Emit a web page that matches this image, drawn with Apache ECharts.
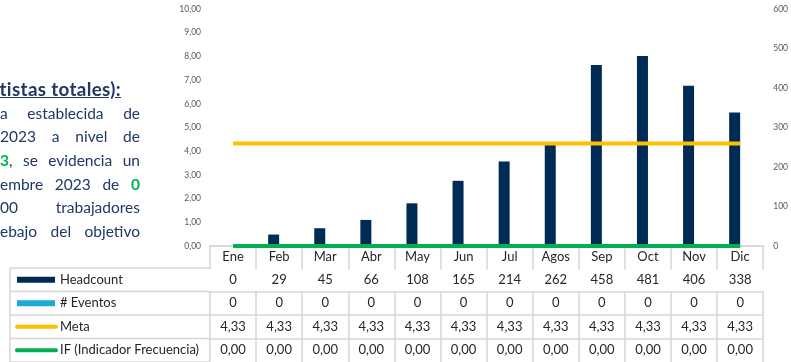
<!DOCTYPE html>
<html>
<head>
<meta charset="utf-8">
<script src="https://cdn.jsdelivr.net/npm/echarts@6/dist/echarts.min.js"></script>
<style>
html,body{margin:0;padding:0;background:#fff;}
#wrap{position:relative;width:791px;height:362px;overflow:hidden;}
#chart{position:absolute;left:0;top:0;width:791px;height:362px;}
#ttl{position:absolute;left:-179px;top:77px;width:300px;text-align:right;font-family:Lato,"Open Sans",sans-serif;font-weight:bold;font-size:18.8px;letter-spacing:0.35px;line-height:24px;color:#1F3864;text-decoration:underline;white-space:nowrap;}
#txt{position:absolute;left:0;top:101.5px;width:140px;font-family:Lato,"Open Sans",sans-serif;font-size:15.5px;line-height:23.7px;color:#1F3864;}
#txt .l{text-align:justify;text-align-last:justify;height:23.7px;}
#txt .g{color:#00B050;font-weight:bold;}
</style>
</head>
<body>
<div id="wrap">
  <div id="chart"></div>
  <div id="ttl">contratistas totales):</div>
  <div id="txt">
    <div class="l">a establecida de</div>
    <div class="l">2023 a nivel de</div>
    <div class="l"><span class="g">3</span>, se evidencia un</div>
    <div class="l">embre 2023 de <span class="g">0</span></div>
    <div class="l">00 trabajadores</div>
    <div class="l">ebajo del objetivo</div>
  </div>
</div>
<script>
// ---- data ----
const months = ['Ene','Feb','Mar','Abr','May','Jun','Jul','Agos','Sep','Oct','Nov','Dic'];
const headcount = [0, 29, 45, 66, 108, 165, 214, 262, 458, 481, 406, 338];
const eventos = [0, 0, 0, 0, 0, 0, 0, 0, 0, 0, 0, 0];
const meta = [4.33, 4.33, 4.33, 4.33, 4.33, 4.33, 4.33, 4.33, 4.33, 4.33, 4.33, 4.33];
const ifInd = [0, 0, 0, 0, 0, 0, 0, 0, 0, 0, 0, 0];
const seriesNames = ['Headcount', '# Eventos', 'Meta', 'IF (Indicador Frecuencia)'];
const leftAxis = {min: 0, max: 10, interval: 1};
const rightAxis = {min: 0, max: 600, interval: 100};

// ---- styles / layout ----
const FONT = 'Lato, "Open Sans", sans-serif';
const colors = ['#002B55', '#1BA9D6', '#FFC000', '#00B050'];
const border = '#D6D6D6';
const gridLeft = 210, gridRight = 23, gridTop = 9, gridBottom = 116;
const axisY = 362 - gridBottom;           // 246
const rowTops = [268, 291.5, 315, 338.5]; // table row top borders
const rowBottom = 362;
const tableLeft = 10;

const comma2 = v => Number(v).toFixed(2).replace('.', ',');
const rows = [
  headcount.map(v => String(v)),
  eventos.map(v => String(v)),
  meta.map(comma2),
  ifInd.map(comma2)
];

const xAxes = [{
  type: 'category', data: months, position: 'bottom', gridIndex: 0,
  axisLine: {show: true, lineStyle: {color: border, width: 1.5}},
  axisTick: {show: true, interval: 0, length: rowTops[0] - axisY, lineStyle: {color: border, width: 1.5}},
  axisLabel: {interval: 0, margin: 4, fontSize: 13, color: '#262626', fontFamily: FONT}
}];
rows.forEach((r, i) => {
  const top = rowTops[i];
  const bot = i < rowTops.length - 1 ? rowTops[i + 1] : rowBottom;
  xAxes.push({
    type: 'category', data: months, position: 'bottom', gridIndex: 0,
    offset: top - axisY,
    axisLine: {show: true, lineStyle: {color: border, width: 1.5}},
    axisTick: {show: true, interval: 0, length: bot - top, lineStyle: {color: border, width: 1.5}},
    axisLabel: {interval: 0, margin: (bot - top) / 2 - 6.5, fontSize: 13, color: '#262626', fontFamily: FONT,
      formatter: (v, idx) => r[idx]}
  });
});

// label column of table
const graphic = [];
[...rowTops, rowBottom].forEach(y => {
  graphic.push({type: 'line', shape: {x1: tableLeft, y1: y, x2: gridLeft, y2: y},
    style: {stroke: border, lineWidth: 1.5}, silent: true});
});
graphic.push({type: 'line', shape: {x1: tableLeft, y1: rowTops[0], x2: tableLeft, y2: rowBottom},
  style: {stroke: border, lineWidth: 1.5}, silent: true});
seriesNames.forEach((name, i) => {
  const top = rowTops[i];
  const bot = i < rowTops.length - 1 ? rowTops[i + 1] : rowBottom;
  const cy = (top + bot) / 2;
  if (i < 2) {
    graphic.push({type: 'rect', shape: {x: 17, y: cy - 3, width: 38, height: 6},
      style: {fill: colors[i]}, silent: true});
  } else {
    graphic.push({type: 'line', shape: {x1: 17, y1: cy, x2: 56, y2: cy},
      style: {stroke: colors[i], lineWidth: 4, lineCap: 'round'}, silent: true});
  }
  graphic.push({type: 'text', x: 60, y: cy,
    style: {text: name, font: '13px ' + FONT, fill: '#262626', textVerticalAlign: 'middle', verticalAlign: 'middle'},
    silent: true});
});

const chart = echarts.init(document.getElementById('chart'), null, {renderer: 'canvas'});
chart.setOption({
  animation: false,
  backgroundColor: 'transparent',
  grid: {left: gridLeft, right: gridRight, top: gridTop, bottom: gridBottom, containLabel: false},
  xAxis: xAxes,
  yAxis: [
    {type: 'value', position: 'left', min: leftAxis.min, max: leftAxis.max, interval: leftAxis.interval,
      axisLine: {show: false}, axisTick: {show: false}, splitLine: {show: false},
      axisLabel: {margin: 9, fontSize: 8.5, color: '#595959', fontFamily: FONT, formatter: comma2}},
    {type: 'value', position: 'right', min: rightAxis.min, max: rightAxis.max, interval: rightAxis.interval,
      axisLine: {show: false}, axisTick: {show: false}, splitLine: {show: false},
      axisLabel: {margin: 10, fontSize: 8.5, color: '#595959', fontFamily: FONT}}
  ],
  series: [
    {name: seriesNames[0], type: 'bar', yAxisIndex: 1, data: headcount, barWidth: 11, barGap: '0%',
      itemStyle: {color: colors[0]}},
    {name: seriesNames[1], type: 'bar', yAxisIndex: 1, data: eventos, barWidth: 11, barGap: '0%',
      itemStyle: {color: colors[1]}},
    {name: seriesNames[2], type: 'line', yAxisIndex: 0, data: meta, symbol: 'none',
      lineStyle: {color: colors[2], width: 4}, itemStyle: {color: colors[2]}},
    {name: seriesNames[3], type: 'line', yAxisIndex: 0, data: ifInd, symbol: 'none',
      lineStyle: {color: colors[3], width: 4}, itemStyle: {color: colors[3]}}
  ],
  graphic: graphic
});
</script>
</body>
</html>
